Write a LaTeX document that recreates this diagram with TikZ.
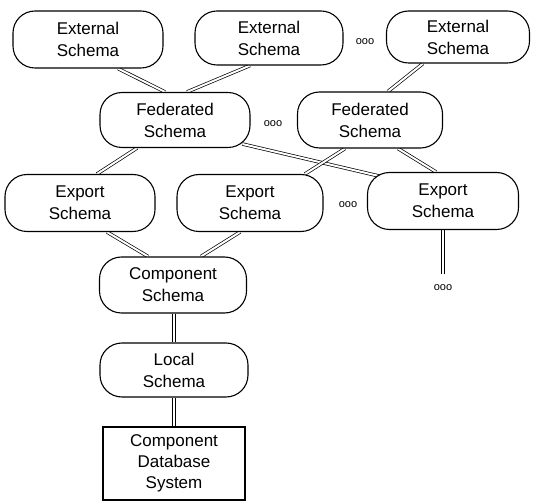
\documentclass[tikz,border=0pt]{standalone}
\usepackage{fontspec}
\setmainfont{Liberation Sans}
\usetikzlibrary{backgrounds}

\tikzset{
  schemabox/.style={draw=black, line width=1.1pt, fill=white, rounded corners=22pt,
    align=center, inner sep=0pt, font=\fontsize{17}{22}\selectfont},
  sysbox/.style={draw=black, line width=1.1pt, fill=white,
    align=center, inner sep=0pt, font=\fontsize{17}{21}\selectfont},
  link/.style={draw=black, line width=0.7pt, double=white, double distance=2pt},
  dots/.style={font=\fontsize{11}{11}\selectfont, inner sep=0pt}
}

\begin{document}
\begin{tikzpicture}[x=1pt, y=-1pt]
  \useasboundingbox (0,0) rectangle (535,502);

  % external schemas
  \node[schemabox, minimum width=150pt, minimum height=57pt] (ext1) at (88,39.5) {External\\Schema};
  \node[schemabox, minimum width=148pt, minimum height=54pt] (ext2) at (269,38) {External\\Schema};
  \node[schemabox, minimum width=143pt, minimum height=52pt] (ext3) at (458,37) {External\\Schema};
  \node[dots] (d1) at (365,42) {ooo};

  % federated schemas
  \node[schemabox, minimum width=150pt, minimum height=55pt] (fed1) at (175,120) {Federated\\Schema};
  \node[schemabox, minimum width=145pt, minimum height=56pt] (fed2) at (370,120) {Federated\\Schema};
  \node[dots] (d2) at (273,124) {ooo};

  % export schemas
  \node[schemabox, minimum width=150pt, minimum height=57pt] (exp1) at (80,203) {Export\\Schema};
  \node[schemabox, minimum width=146pt, minimum height=57pt] (exp2) at (250,203) {Export\\Schema};
  \node[schemabox, minimum width=151pt, minimum height=57pt] (exp3) at (443,201) {Export\\Schema};
  \node[dots] (d3) at (348,205) {ooo};

  % component side
  \node[schemabox, minimum width=147pt, minimum height=56pt] (comp) at (173,285) {Component\\Schema};
  \node[schemabox, minimum width=148pt, minimum height=54pt] (local) at (174,370) {Local\\Schema};
  \node[sysbox, minimum width=142pt, minimum height=73pt] (cdb) at (174,463.5) {Component\\Database\\System};

  \coordinate (tail) at (443,274);
  \node[dots] (d4) at (443,288) {ooo};

  \begin{pgfonlayer}{background}
    \draw[link] ([xshift=30pt]ext1.south) -- ([xshift=-10pt]fed1.north);
    \draw[link] ([xshift=-19pt]ext2.south) -- ([xshift=12pt]fed1.north);
    \draw[link] ([xshift=-35pt]ext3.south) -- ([xshift=18pt]fed2.north);

    \draw[link] ([xshift=-38pt]fed1.south) -- ([xshift=17pt]exp1.north);
    \draw[link] ([xshift=-8pt,yshift=4pt]fed1.south east) -- ([xshift=16pt,yshift=-5pt]exp3.north west);
    \draw[link] ([xshift=-25pt]fed2.south) -- ([xshift=55pt]exp2.north);
    \draw[link] ([xshift=28pt]fed2.south) -- ([xshift=-7pt]exp3.north);

    \draw[link] ([xshift=27pt]exp1.south) -- ([xshift=-25pt]comp.north);
    \draw[link] ([xshift=-10pt]exp2.south) -- ([xshift=28pt]comp.north);
    \draw[link] (exp3.south) -- (tail);

    \draw[link] ([xshift=1pt]comp.south) -- (local.north);
    \draw[link] (local.south) -- (cdb.north);
  \end{pgfonlayer}
\end{tikzpicture}
\end{document}
